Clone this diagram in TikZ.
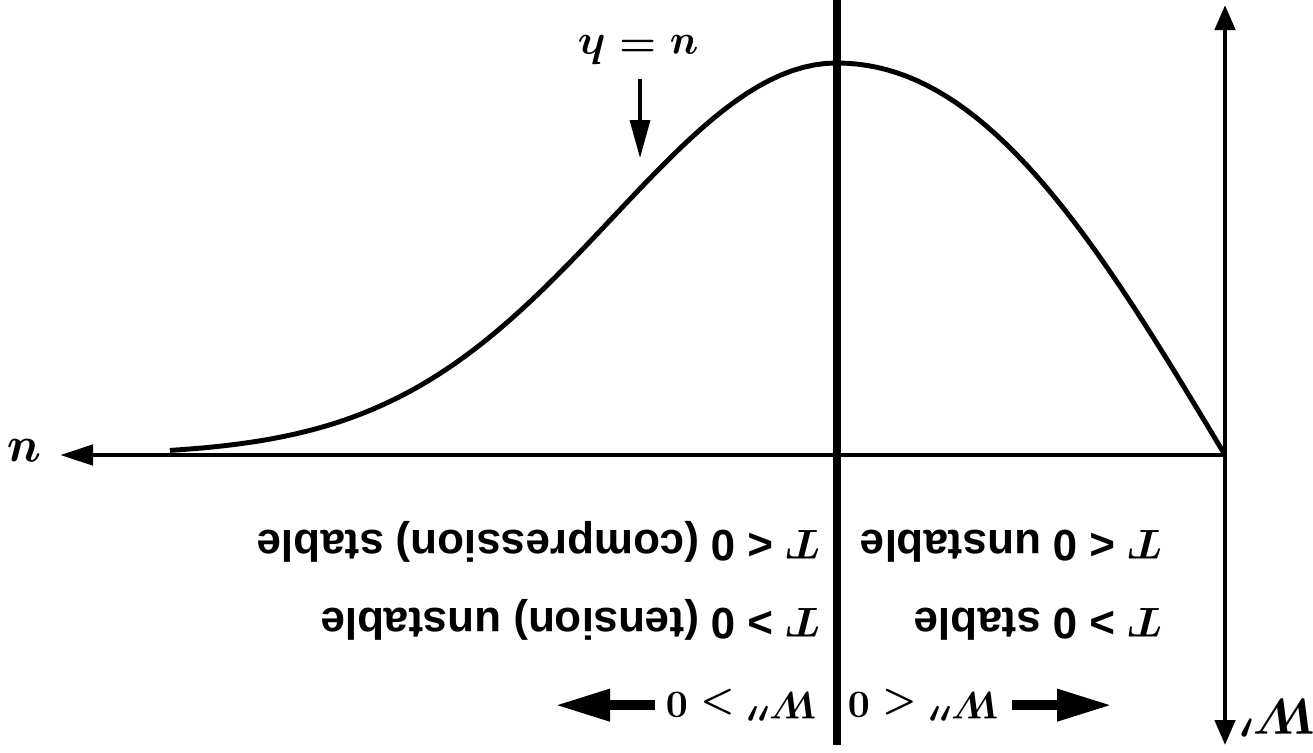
\documentclass[tikz,border=0pt]{standalone}
\usepackage{amsmath}
\usepackage{fontspec}
\setsansfont{Liberation Sans}
\usetikzlibrary{arrows.meta}

\begin{document}
\begin{tikzpicture}[
  x=0.1mm, y=-0.1mm,
  axis/.style={line width=1.3pt},
  curve/.style={line width=1.4pt, line join=round},
  divider/.style={line width=2.3pt},
  lbl/.style={rotate=180, inner sep=0pt, font=\sffamily\bfseries\fontsize{12.5}{15}\selectfont\boldmath},
  wlbl/.style={rotate=180, inner sep=0pt, font=\fontsize{11}{13}\selectfont\boldmath},
  sym/.style={rotate=180, inner sep=0pt, font=\fontsize{13}{15}\selectfont\boldmath},
  bigsym/.style={sym, font=\fontsize{14}{16}\selectfont\boldmath},
  bigarrow/.style={-{Triangle[length=5.5mm,width=3mm]}, line width=2.8pt},
  pointer/.style={-{Triangle[length=3.8mm,width=2mm]}, line width=1pt}
]
  \useasboundingbox (0,0) rectangle (1313,752);

  \coordinate (origin) at (1225,455);
  \coordinate (utip)   at (60,455);
  \coordinate (wtop)   at (1225,5);
  \coordinate (wbot)   at (1225,745);
  \coordinate (midtop) at (837,0);
  \coordinate (midbot) at (837,745);
  \coordinate (hpt)    at (640,158);

  % axes and the line through the maximum
  \draw[axis, -{Triangle[length=3.3mm,width=2mm]}] (origin) -- (utip);
  \draw[axis, {Triangle[length=2.5mm,width=2mm]}-{Triangle[length=2.5mm,width=2mm]}] (wtop) -- (wbot);
  \draw[divider] (midtop) -- (midbot);

  % W'(u): rising part, then the tail
  \draw[curve] plot[domain=0:1, samples=40] ({1225-388*\x}, {455-392*\x*exp((1-\x*\x)/2)})
    -- plot[domain=1:2.72, samples=60] ({1225-388*\x}, {455-392*exp(-1.5*(\x-1)^2)});

  \node[bigsym] (ulbl) at (24,451) {$u$};
  \node[bigsym] (wlbl) at (1278,718) {$W'$};
  \node[sym] (hlbl) at (638,50) {$u = h$};
  \draw[pointer] (hlbl.north) ++(2,14) -- (hpt);

  % left of the divider
  \node[lbl, anchor=base west] (cmp) at (820,530) {$T$ < 0 (compression) stable};
  \node[lbl, anchor=base west] (tns) at (820,608) {$T$ > 0 (tension) unstable};
  \node[wlbl, anchor=base west] (wpos) at (818,692) {$W''>0$};
  \draw[bigarrow] (wpos.east) ++(-10,0) -- ++(-100,0);

  % right of the divider
  \node[lbl, anchor=base west] (cmpr) at (1162,530) {$T$ < 0 unstable};
  \node[lbl, anchor=base west] (tnsr) at (1162,608) {$T$ > 0 stable};
  \node[wlbl, anchor=base west] (wneg) at (1000,692) {$W''<0$};
  \draw[bigarrow] (wneg.west) ++(12,0) -- ++(100,0);

\end{tikzpicture}
\end{document}
